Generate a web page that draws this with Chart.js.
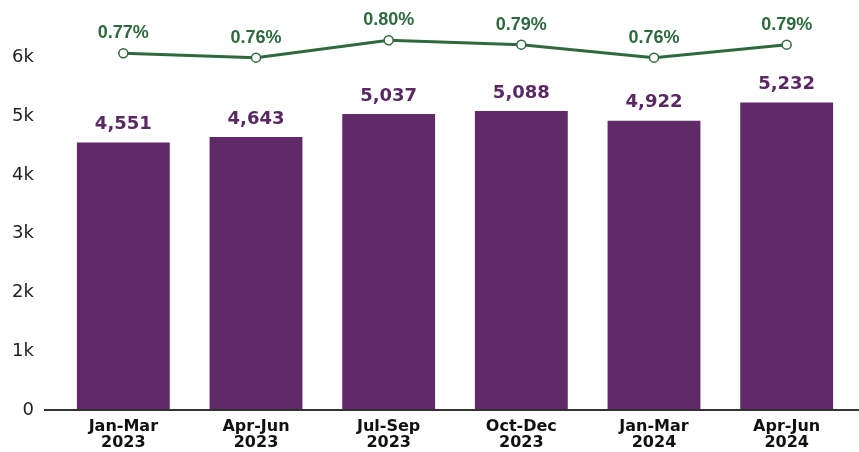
<!DOCTYPE html>
<html><head><meta charset="utf-8">
<script src="https://cdn.jsdelivr.net/npm/chart.js@4"></script>
<style>html,body{margin:0;padding:0;background:#fff}#wrap{width:859px;height:452px}</style>
</head><body><div id="wrap"><canvas id="c" width="859" height="452"></canvas></div>
<script>
const categories = [["Jan-Mar","2023"],["Apr-Jun","2023"],["Jul-Sep","2023"],["Oct-Dec","2023"],["Jan-Mar","2024"],["Apr-Jun","2024"]];
const volumes = [4551, 4643, 5037, 5088, 4922, 5232];
const rates = [0.77, 0.76, 0.80, 0.79, 0.76, 0.79];
const yTickValues = [0, 1000, 2000, 3000, 4000, 5000, 6000];

const PURPLE = '#5f2a67';
const PURPLE_TXT = '#5a2862';
const GREEN = '#2e6a3e';

const labelPlugin = {
  id: 'labels',
  afterDatasetsDraw(chart) {
    const ctx = chart.ctx;
    const y = chart.scales.y;
    const y0 = y.getPixelForValue(0);
    ctx.save();
    ctx.strokeStyle = '#333';
    ctx.lineWidth = 2;
    ctx.beginPath();
    ctx.moveTo(44, y0);
    ctx.lineTo(chart.width, y0);
    ctx.stroke();
    ctx.textAlign = 'center';
    ctx.textBaseline = 'middle';
    const barMeta = chart.getDatasetMeta(1);
    ctx.font = 'bold 18px "DejaVu Sans"';
    ctx.fillStyle = PURPLE_TXT;
    barMeta.data.forEach((el, i) => {
      ctx.fillText(volumes[i].toLocaleString('en-US'), el.x, el.y - 18);
    });
    const lineMeta = chart.getDatasetMeta(0);
    ctx.font = 'bold 18px "Liberation Sans"';
    ctx.fillStyle = GREEN;
    lineMeta.data.forEach((el, i) => {
      ctx.fillText(rates[i].toFixed(2) + '%', el.x, el.y - 20);
    });
    ctx.restore();
  }
};

new Chart(document.getElementById('c'), {
  data: {
    labels: categories,
    datasets: [
      {
        type: 'line', data: rates, yAxisID: 'y2', order: 0,
        borderColor: GREEN, borderWidth: 3, tension: 0,
        pointRadius: 4.5, pointBackgroundColor: '#fff', pointBorderColor: GREEN, pointBorderWidth: 1.5
      },
      {
        type: 'bar', data: volumes, yAxisID: 'y', order: 1,
        backgroundColor: PURPLE, categoryPercentage: 1, barPercentage: 0.7
      }
    ]
  },
  options: {
    responsive: false, animation: false, devicePixelRatio: 1,
    layout: { padding: { top: 10, right: 4, left: 0, bottom: 0 } },
    plugins: { legend: { display: false }, tooltip: { enabled: false } },
    scales: {
      x: {
        grid: { display: false, drawTicks: false }, border: { display: false },
        ticks: { color: '#111', font: { family: 'DejaVu Sans', size: 16, weight: 'bold', lineHeight: 1.05 }, padding: 8, maxRotation: 0 },
        afterFit(s) { s.height = 42; }
      },
      y: {
        min: 0, max: 6400,
        grid: { display: false, drawTicks: false }, border: { display: false },
        afterBuildTicks(s) { s.ticks = yTickValues.map(v => ({ value: v })); },
        ticks: { color: '#222', font: { family: 'DejaVu Sans', size: 18 }, padding: 23,
          callback: v => v === 0 ? '0' : (v / 1000) + 'k' },
        afterFit(s) { s.width = 57; }
      },
      y2: { display: false, min: -0.053, max: 0.815 }
    }
  },
  plugins: [labelPlugin]
});
</script></body></html>
